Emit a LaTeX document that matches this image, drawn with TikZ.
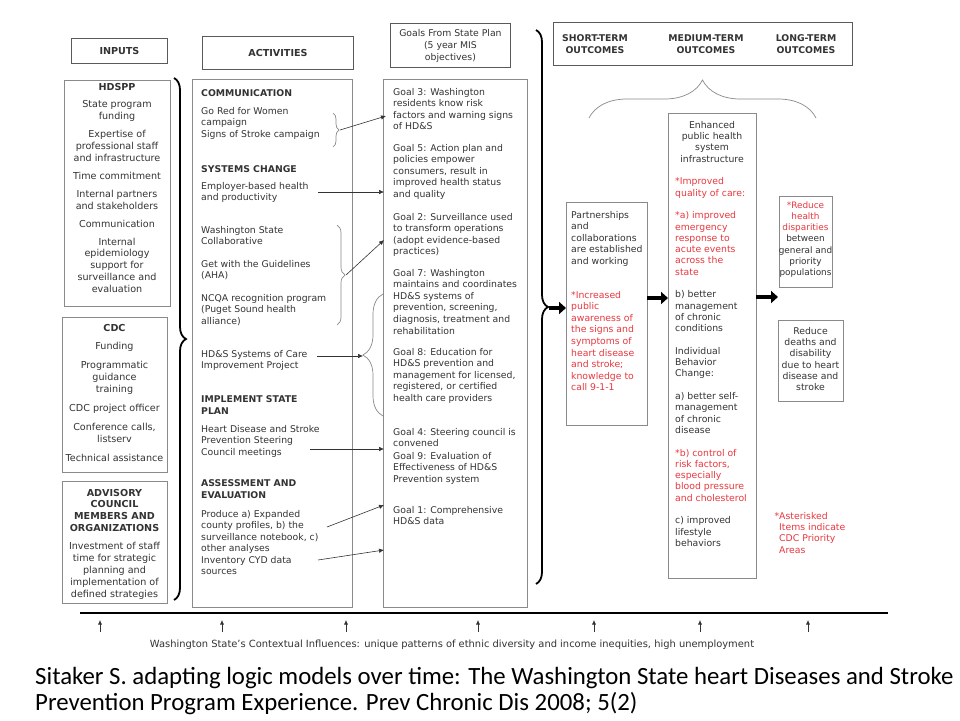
\documentclass[tikz,border=0pt]{standalone}
\usepackage{fontspec}
\setmainfont{DejaVu Sans}
\newfontfamily\capfont{Carlito}
\usetikzlibrary{arrows.meta,decorations.pathreplacing}
\definecolor{txt}{HTML}{333333}
\definecolor{rtxt}{HTML}{E8383F}
\definecolor{bgray}{HTML}{8A8A8A}
\definecolor{hgray}{HTML}{5A5A5A}
\newcommand\fsA{\fontsize{9.3}{11.6}\selectfont}
\newcommand\fsI{\fontsize{9.6}{11.9}\selectfont}
\newcommand\fsM{\fontsize{9.3}{11.3}\selectfont}
\begin{document}
\begin{tikzpicture}[x=1pt,y=-1pt,
  hdr/.style={draw=hgray, line width=0.9pt, inner sep=0, anchor=north west},
  cbox/.style={draw=bgray, line width=0.9pt, inner sep=0, anchor=north west},
  tl/.style={anchor=north west, yshift=8.12pt, inner sep=0, align=left, text=txt, font=\fsA, execute at begin node=\strut},
  tlm/.style={anchor=north west, yshift=7.91pt, inner sep=0, align=left, text=txt, font=\fsM, execute at begin node=\strut},
  tc/.style={anchor=north, yshift=8.12pt, inner sep=0, align=center, text=txt, font=\fsA, execute at begin node=\strut},
  tcm/.style={anchor=north, yshift=7.91pt, inner sep=0, align=center, text=txt, font=\fsM, execute at begin node=\strut},
  tci/.style={anchor=north, yshift=8.33pt, inner sep=0, align=center, text=txt, font=\fsI, execute at begin node=\strut},
  redt/.style={text=rtxt},
  harr/.style={draw=txt, line width=0.6pt, -{Latex[length=5pt,width=4.5pt]}},
  barr/.style={draw=black, line width=4pt, -{Triangle[length=7pt,width=12pt]}},
  bigbrace/.style={decorate, decoration={brace, amplitude=12pt}, line width=1.8pt, draw=black},
  smbrace/.style={decorate, decoration={brace, amplitude=#1}, line width=0.7pt, draw=bgray}
]
\useasboundingbox[fill=white] (0,0) rectangle (960,720);

% ---------- headers ----------
\node[hdr, minimum width=96pt, minimum height=25pt, font=\fontsize{9.6}{11}\selectfont\bfseries, text=txt] (inHdr) at (71,38) {INPUTS};
\node[hdr, minimum width=151pt, minimum height=33pt, font=\fontsize{9.6}{11}\selectfont\bfseries, text=txt] (acHdr) at (202,36) {ACTIVITIES};
\node[hdr, minimum width=120pt, minimum height=44pt, align=center, font=\fontsize{9.3}{12}\selectfont, text=txt] (goHdr) at (390,23) {Goals From State Plan\\(5 year MIS\\objectives)};
\node[hdr, minimum width=299pt, minimum height=43pt] (ocHdr) at (553,22) {};
\node[tc, font=\fsA\bfseries] (ocS) at (595,43) {SHORT-TERM\\OUTCOMES};
\node[tc, font=\fsA\bfseries] (ocM) at (706,43) {MEDIUM-TERM\\OUTCOMES};
\node[tc, font=\fsA\bfseries] (ocL) at (806,43) {LONG-TERM\\OUTCOMES};

% ---------- inputs ----------
\node[cbox, minimum width=106pt, minimum height=226pt] (inHD) at (64,80) {};
\node[tci] (inHDt) at (117,92) {\textbf{HDSPP}\\[5pt]State program\\funding\\[6pt]Expertise of\\professional staff\\and infrastructure\\[6pt]Time commitment\\[6pt]Internal partners\\and stakeholders\\[6pt]Communication\\[6pt]Internal\\epidemiology\\support for\\surveillance and\\evaluation};
\node[cbox, minimum width=105pt, minimum height=155pt] (inCDC) at (62,317) {};
\node[tci] (inCDCt) at (114.5,332) {\textbf{CDC}\\[7pt]Funding\\[7pt]Programmatic\\guidance\\training\\[7pt]CDC project officer\\[7pt]Conference calls,\\listserv\\[7pt]Technical assistance};
\node[cbox, minimum width=105pt, minimum height=122pt] (inAdv) at (62,481) {};
\node[tci] (inAdvt) at (114.5,497) {\textbf{ADVISORY}\\\textbf{COUNCIL}\\\textbf{MEMBERS AND}\\\textbf{ORGANIZATIONS}\\[6pt]Investment of staff\\time for strategic\\planning and\\implementation of\\defined strategies};

\draw[bigbrace] (174,78) -- (174,600);

% ---------- activities ----------
\node[cbox, minimum width=160pt, minimum height=528pt] (acBox) at (192,79) {};
\node[tl, font=\fsA\bfseries] (acComm) at (201,96) {COMMUNICATION};
\node[tl] (acGoRed) at (201,115) {Go Red for Women\\campaign\\Signs of Stroke campaign};
\node[tl, font=\fsA\bfseries] (acSys) at (201,172) {SYSTEMS CHANGE};
\node[tl] (acEmp) at (201,190) {Employer-based health\\and productivity};
\node[tl] (acWA) at (201,234) {Washington State\\Collaborative};
\node[tl] (acGet) at (201,268) {Get with the Guidelines\\(AHA)};
\node[tl] (acNCQA) at (201,302) {NCQA recognition program\\(Puget Sound health\\alliance)};
\node[tl] (acHDS) at (201,358) {HD\&S Systems of Care\\Improvement Project};
\node[tl, font=\fsA\bfseries] (acImp) at (201,404) {IMPLEMENT STATE\\PLAN};
\node[tl] (acHeart) at (201,433) {Heart Disease and Stroke\\Prevention Steering\\Council meetings};
\node[tl, font=\fsA\bfseries] (acAss) at (201,488) {ASSESSMENT AND\\EVALUATION};
\node[tl] (acProd) at (201,518) {Produce a) Expanded\\county profiles, b) the\\surveillance notebook, c)\\other analyses};
\node[tl] (acInv) at (201,564) {Inventory CYD data\\sources};

% ---------- goals ----------
\node[cbox, minimum width=144pt, minimum height=528pt] (goBox) at (383,79) {};
\node[tl] (g3) at (393,96) {Goal 3: Washington\\residents know risk\\factors and warning signs\\of HD\&S};
\node[tl] (g5) at (393,152) {Goal 5: Action plan and\\policies empower\\consumers, result in\\improved health status\\and quality};
\node[tl] (g2) at (393,221) {Goal 2: Surveillance used\\to transform operations\\(adopt evidence-based\\practices)};
\node[tl] (g7) at (393,277) {Goal 7: Washington\\maintains and coordinates\\HD\&S systems of\\prevention, screening,\\diagnosis, treatment and\\rehabilitation};
\node[tl] (g8) at (393,356) {Goal 8: Education for\\HD\&S prevention and\\management for licensed,\\registered, or certified\\health care providers};
\node[tl] (g4) at (393,436) {Goal 4: Steering council is\\convened};
\node[tl] (g9) at (393,460) {Goal 9: Evaluation of\\Effectiveness of HD\&S\\Prevention system};
\node[tl] (g1) at (393,514) {Goal 1: Comprehensive\\HD\&S data};

% ---------- activity -> goal connectors ----------
\draw[smbrace=6pt] (333,113) -- (333,147);
\coordinate (b1tip) at (340,130);
\coordinate (g3in) at (386,116);
\draw[harr] (b1tip) -- (g3in);
\coordinate (empOut) at (318,192);
\coordinate (g5in) at (384,192);
\draw[harr] (empOut) -- (g5in);
\draw[smbrace=8pt] (337,225) -- (337,325);
\coordinate (b2tip) at (346,275);
\coordinate (g2in) at (384,240);
\draw[harr] (b2tip) -- (g2in);
\draw[smbrace=20pt] (383,416) -- (383,294);
\coordinate (hdsOut) at (317,356);
\coordinate (b3tip) at (363,356);
\draw[harr] (hdsOut) -- (b3tip);
\coordinate (cmOut) at (310,449);
\coordinate (g4in) at (384,449);
\draw[harr] (cmOut) -- (g4in);
\coordinate (prOut) at (327,527);
\coordinate (g9in) at (384,505);
\draw[harr] (prOut) -- (g9in);
\coordinate (invOut) at (318,560);
\coordinate (g1in) at (384,550);
\draw[harr] (invOut) -- (g1in);

% ---------- right brace & outcomes ----------
\draw[bigbrace] (536,30) -- (536,584);
\coordinate (rbTip) at (549,308);
\node[cbox, minimum width=81pt, minimum height=223pt] (stBox) at (566,202) {};
\draw[barr] (rbTip) -- (rbTip -| stBox.west);
\node[tl] (st1) at (571,219) {Partnerships\\and\\collaborations\\are established\\and working};
\node[tl, redt] (st2) at (571,299) {*Increased\\public\\awareness of\\the signs and\\symptoms of\\heart disease\\and stroke;\\knowledge to\\call 9-1-1};

\draw[smbrace=38pt] (589,118) -- (816,118);
\node[cbox, minimum width=88pt, minimum height=465pt] (mdBox) at (668,113) {};
\coordinate (stmd) at (647,298);
\draw[barr] (stmd) -- (stmd -| mdBox.west);
\node[tcm] (md1) at (712,129) {Enhanced\\public health\\system\\infrastructure};
\node[tlm, redt] (md2) at (675,185.5) {*Improved\\quality of care:};
\node[tlm, redt] (md3) at (675,219.4) {*a) improved\\emergency\\response to\\acute events\\across the\\state};
\node[tlm] (md4) at (675,298.5) {b) better\\management\\of chronic\\conditions};
\node[tlm] (md5) at (675,355) {Individual\\Behavior\\Change:};
\node[tlm] (md6) at (675,400.2) {a) better self-\\management\\of chronic\\disease};
\node[tlm, redt] (md7) at (675,456.7) {*b) control of\\risk factors,\\especially\\blood pressure\\and cholesterol};
\node[tlm] (md8) at (675,524.5) {c) improved\\lifestyle\\behaviors};

\node[cbox, minimum width=53pt, minimum height=91pt] (lt1) at (779,196) {};
\node[tcm, font=\fontsize{8.9}{11.3}\selectfont] (lt1t) at (805.5,209) {\textcolor{rtxt}{*Reduce}\\\textcolor{rtxt}{health}\\\textcolor{rtxt}{disparities}\\between\\general and\\priority\\populations};
\node[cbox, minimum width=65pt, minimum height=81pt] (lt2) at (778,320) {};
\node[tcm] (lt2t) at (810.5,335) {Reduce\\deaths and\\disability\\due to heart\\disease and\\stroke};
\coordinate (mdlt) at (756,297);
\draw[barr] (mdlt) -- (778,297);
\node[tlm, redt] (note) at (779,520) {\llap{*}Asterisked\\Items indicate\\CDC Priority\\Areas};

% ---------- contextual influences ----------
\coordinate (lineL) at (80,613);
\coordinate (lineR) at (888,613);
\draw[line width=2.6pt, black] (lineL) -- (lineR);
\foreach \xx in {100,222,346,478,594,700,808}{
  \draw[draw=txt, line width=0.6pt, -{Latex[length=4.5pt,width=4pt]}] (\xx,632) -- (\xx,620);
}
\node[anchor=base, inner sep=0, text=txt, font=\fontsize{9.9}{11}\selectfont] (ctx) at (452,647) {Washington State's Contextual Influences: unique patterns of ethnic diversity and income inequities, high unemployment};

% ---------- caption ----------
\node[anchor=base west, inner sep=0, font=\capfont\fontsize{24.8}{26}\selectfont, text=black] (cap1) at (35,684) {Sitaker S. adapting logic models over time: The Washington State heart Diseases and Stroke};
\node[anchor=base west, inner sep=0, font=\capfont\fontsize{24.8}{26}\selectfont, text=black] (cap2) at (35,710) {Prevention Program Experience. Prev Chronic Dis 2008; 5(2)};
\end{tikzpicture}
\end{document}
